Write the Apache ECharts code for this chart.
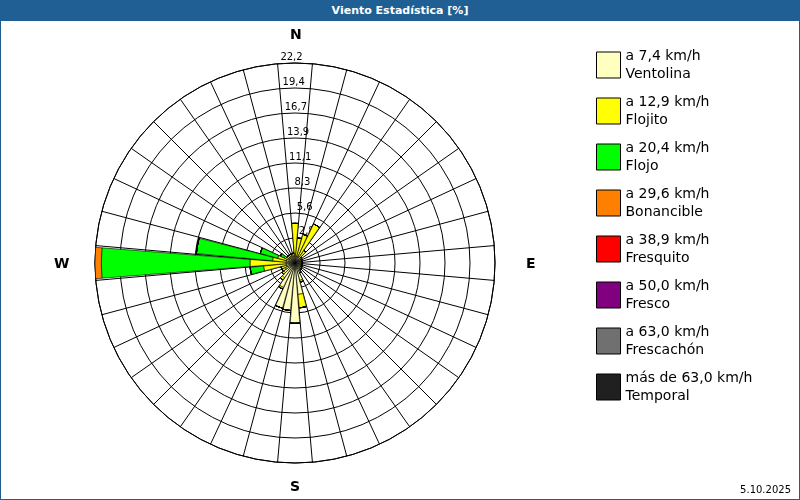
<!DOCTYPE html>
<html><head><meta charset="utf-8">
<script src="https://cdn.jsdelivr.net/npm/echarts@6/dist/echarts.min.js"></script>
<style>body{margin:0;background:#fff}#box{position:absolute;left:0;top:0;width:798px;height:498px;border:1px solid #1f5f94}
#ttl{height:20px;background:#1f5f94;color:#fff;font:bold 11px Verdana,'DejaVu Sans',sans-serif;text-align:center;line-height:20px}
#container{position:absolute;left:0;top:21px;width:798px;height:477px}</style>
</head><body>
<div id="box"><div id="ttl">Viento Estadística [%]</div><div id="container"></div></div>
<script>
// 36 directions, 10 degree steps clockwise from N
var dirs = [];
for (var i = 0; i < 36; i++) dirs.push(i * 10);
var ventolina = [1,0.8,0.8,0.8,0.7,0.6,0.6,0.6,0.6,0.6,0.6,0.6,0.6,0.7,0.8,1,2,3.5,6.7,5.3,5.2,3,2,1.5,1.2,1,1,1,1,1,0.8,0.8,0.8,0.8,0.8,0.8];
var flojito = [3.4,2,2.5,4,1,0.3,0.2,0.2,0.2,0.2,0.2,0.2,0.2,0.2,0.2,0.2,0.2,1.5,0,0,0,0.2,0.3,0.3,0.4,0.6,2.5,4,1.5,1,0.5,0.3,0.3,0.3,0.3,0.3];
var flojo = [0,0,0,0,0,0,0,0,0,0,0,0,0,0,0,0,0,0,0,0,0,0,0,0,0,0,1.5,16.5,8.5,2,0.5,0,0,0,0,0];
var bonancible = [0,0,0,0,0,0,0,0,0,0,0,0,0,0,0,0,0,0,0,0,0,0,0,0,0,0,0,0.7,0,0,0,0,0,0,0,0];
var zeros = dirs.map(function(){return 0;});
var names = ['a 7,4 km/h\nVentolina','a 12,9 km/h\nFlojito','a 20,4 km/h\nFlojo','a 29,6 km/h\nBonancible','a 38,9 km/h\nFresquito','a 50,0 km/h\nFresco','a 63,0 km/h\nFrescachón','más de 63,0 km/h\nTemporal'];
var colors = ['#ffffc0','#ffff00','#00ff00','#ff8000','#ff0000','#800080','#707070','#202020'];
var values = [ventolina, flojito, flojo, bonancible, zeros, zeros, zeros, zeros];

var myChart = echarts.init(document.getElementById('container'));
var series = [];
for (var k = 0; k < names.length; k++) {
	series.push({
		name: names[k], type: 'bar', coordinateSystem: 'polar', stack: 'w',
		data: values[k], barCategoryGap: '10%',
		itemStyle: {color: colors[k], borderColor: '#000', borderWidth: 0.6}
	});
}
var font = "Verdana,'DejaVu Sans',sans-serif";
var option = {
	animation: false,
	polar: {center: [294, 241], radius: 200},
	angleAxis: {
		type: 'category', data: dirs, startAngle: 95, clockwise: true,
		axisLine: {lineStyle: {color: '#000'}}, axisTick: {show: false},
		axisLabel: {show: false, interval: 0},
		splitLine: {show: true, interval: 0, lineStyle: {color: '#000', width: 1}}
	},
	radiusAxis: {
		min: 0, max: 22.2, interval: 2.775,
		axisLine: {show: false}, axisTick: {show: false},
		axisLabel: {fontSize: 10, fontFamily: font, color: '#000', margin: -14, align: 'center', verticalAlign: 'bottom',
			formatter: function(v){ return v === 0 ? '' : (Math.round(v * 10 + 0.01) / 10).toFixed(1).replace('.', ','); }},
		splitLine: {show: true, lineStyle: {color: '#000'}}
	},
	legend: {
		orient: 'vertical', left: 590, top: 20, itemWidth: 24, itemHeight: 26, itemGap: 10,
		icon: 'rect', itemStyle: {borderColor: '#000', borderWidth: 1},
		textStyle: {fontSize: 14, fontFamily: font, color: '#000', lineHeight: 18}, selectedMode: false
	},
	graphic: [
		{type: 'text', left: 289, top: 6, style: {text: 'N', font: 'bold 14px ' + font, fill: '#000'}},
		{type: 'text', left: 289, top: 458, style: {text: 'S', font: 'bold 14px ' + font, fill: '#000'}},
		{type: 'text', left: 525, top: 235, style: {text: 'E', font: 'bold 14px ' + font, fill: '#000'}},
		{type: 'text', left: 53, top: 235, style: {text: 'W', font: 'bold 14px ' + font, fill: '#000'}},
		{type: 'text', right: 8, bottom: 4, style: {text: '5.10.2025', font: '10px ' + font, fill: '#000'}}
	],
	series: series
};
myChart.setOption(option);
</script>
</body></html>
